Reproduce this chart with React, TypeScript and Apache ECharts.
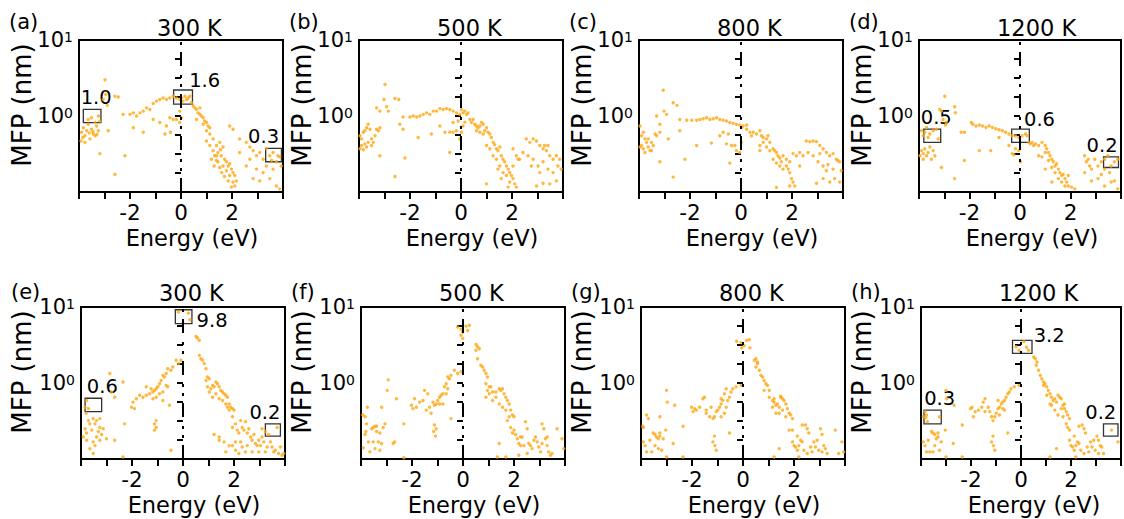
import React, { useEffect, useRef } from "react";
import * as echarts from "echarts";

// ---------- text ----------
const panelLetters = ["(a)", "(b)", "(c)", "(d)", "(e)", "(f)", "(g)", "(h)"];
const temperatures = ["300 K", "500 K", "800 K", "1200 K", "300 K", "500 K", "800 K", "1200 K"];
const xAxisName = "Energy (eV)";
const yAxisName = "MFP (nm)";
const xLabelledTicks = [-2, 0, 2];
const yDecadeTicks = [1, 10];

// ---------- data: [energy (eV), MFP (nm)] ----------
const mfpA: number[][] = [
  [-3.9, 0.61], [-3.83, 0.7], [-3.77, 0.55], [-3.7, 0.64], [-3.64, 0.78], [-3.57, 0.5], [-3.51, 0.67], [-3.44, 0.58],
  [-3.37, 0.82], [-3.31, 0.74], [-3.24, 1.0], [-3.18, 0.86], [-3.92, 0.47], [-3.77, 0.45], [-3.64, 0.9], [-3.51, 0.95],
  [-3.37, 0.55], [-3.24, 0.64], [-3.6, 0.6], [-3.45, 0.62], [-3.3, 0.57], [-3.85, 0.52],
  [-2.98, 3.0], [-3.05, 1.65], [-2.95, 1.92], [-2.89, 1.38], [-2.85, 0.64], [-3.18, 0.32], [-2.59, 1.82], [-2.46, 1.78],
  [-2.59, 0.17], [-2.2, 0.3],
  [-2.27, 1.05], [-2.0, 1.05], [-1.87, 1.1], [-1.74, 1.0], [-1.61, 1.1], [-1.48, 1.16], [-1.35, 1.28], [-1.22, 1.22],
  [-1.09, 1.46], [-0.96, 1.57], [-0.83, 1.65], [-0.7, 1.73], [-0.57, 1.65], [-0.44, 1.73], [-0.31, 1.82], [-0.18, 1.73],
  [-0.05, 1.65], [0.02, 1.73], [0.08, 1.57], [0.15, 1.82], [0.22, 1.65], [0.28, 1.73], [0.35, 1.82],
  [-1.87, 0.7], [-1.48, 0.61], [-1.09, 0.9], [-0.83, 0.82], [-0.57, 0.74], [-0.44, 0.95], [-0.31, 0.9], [-0.18, 0.9],
  [-0.05, 0.82], [0.02, 0.95], [-0.05, 1.16], [-0.41, 0.61], [-0.63, 0.58],
  [0.41, 1.49], [0.48, 1.35], [0.54, 1.28], [0.61, 1.22], [0.67, 1.1], [0.74, 1.05], [0.8, 1.0], [0.87, 0.95],
  [0.93, 0.86], [1.0, 0.82], [1.06, 0.74], [1.13, 0.7], [0.74, 1.28], [0.61, 0.9], [0.87, 0.78], [1.0, 0.64],
  [1.13, 0.58], [1.26, 0.5], [1.39, 0.41], [1.52, 0.45], [1.65, 0.39], [1.45, 0.33], [1.32, 0.3], [1.58, 0.3],
  [1.71, 0.27], [1.78, 0.25], [1.85, 0.22], [1.91, 0.235], [1.98, 0.2], [2.04, 0.18], [2.11, 0.165], [2.17, 0.14],
  [2.04, 0.135], [1.91, 0.165], [1.78, 0.19], [1.65, 0.22], [1.52, 0.21], [1.39, 0.26], [1.26, 0.35], [1.13, 0.41],
  [1.0, 0.47], [1.19, 0.27], [1.98, 0.116], [2.11, 0.12], [1.45, 0.25], [1.6, 0.18], [1.7, 0.16], [1.85, 0.14],
  [1.3, 0.22], [1.55, 0.36], [1.4, 0.3],
  [1.91, 0.74], [2.04, 0.67], [2.3, 0.5], [2.56, 0.45], [2.7, 0.39], [2.83, 0.35], [2.96, 0.3], [3.09, 0.33],
  [3.22, 0.27], [3.35, 0.37], [3.48, 0.3], [3.61, 0.33], [3.74, 0.25], [3.87, 0.29], [3.93, 0.22], [2.7, 0.27],
  [2.96, 0.2], [3.22, 0.18], [3.48, 0.15], [3.74, 0.12], [3.87, 0.11], [2.83, 0.15], [3.09, 0.14], [3.35, 0.22],
  [2.3, 0.33], [2.56, 0.22], [3.61, 0.2], [3.8, 0.3], [3.55, 0.26],
];

const mfpB: number[][] = [
  [-3.96, 0.55], [-3.9, 0.5], [-3.83, 0.61], [-3.77, 0.64], [-3.7, 0.7], [-3.64, 0.78], [-3.57, 0.67], [-3.51, 0.5],
  [-3.44, 0.45], [-3.37, 0.55], [-3.31, 0.67], [-3.24, 0.64], [-3.18, 0.7], [-3.9, 0.41], [-3.77, 0.43], [-3.64, 0.45],
  [-3.51, 0.41], [-3.96, 0.37], [-3.83, 0.36], [-3.7, 0.39],
  [-2.98, 2.6], [-3.31, 1.28], [-3.18, 1.16], [-3.02, 1.65], [-2.92, 1.32], [-2.85, 1.16], [-3.18, 0.3], [-2.59, 1.7],
  [-2.44, 1.65], [-2.59, 0.16], [-2.2, 0.28], [-2.4, 0.78], [-2.27, 0.67],
  [-2.27, 0.97], [-2.0, 0.97], [-1.87, 1.0], [-1.74, 0.97], [-1.61, 1.0], [-1.48, 1.05], [-1.35, 1.1], [-1.22, 1.05],
  [-1.09, 1.16], [-0.96, 1.16], [-0.83, 1.25], [-0.7, 1.22], [-0.57, 1.25], [-0.44, 1.22], [-0.31, 1.16], [-0.18, 1.1],
  [-0.05, 1.05], [0.02, 1.22], [0.08, 1.1], [0.15, 1.16], [0.22, 1.05], [0.28, 1.1],
  [-1.68, 0.52], [-1.16, 0.58], [-0.83, 0.74], [-0.63, 0.61], [-0.44, 0.61], [-0.31, 0.61], [-0.18, 0.64], [-0.44, 0.33],
  [-0.05, 0.5], [0.02, 0.61], [0.08, 0.74], [0.15, 0.83], [-0.31, 0.82], [-0.11, 0.86],
  [0.35, 0.9], [0.41, 0.82], [0.48, 0.9], [0.54, 0.78], [0.61, 0.74], [0.67, 0.7], [0.74, 0.74], [0.8, 0.82],
  [0.87, 0.78], [0.93, 0.64], [1.0, 0.7], [1.06, 0.61], [1.13, 0.58], [1.19, 0.52], [0.74, 0.61], [0.87, 0.58],
  [0.61, 0.64], [1.26, 0.45], [1.32, 0.42], [1.39, 0.37], [1.45, 0.35], [1.52, 0.39], [1.58, 0.3], [1.65, 0.27],
  [1.71, 0.25], [1.78, 0.22], [1.85, 0.2], [1.91, 0.18], [1.98, 0.165], [2.04, 0.15], [2.11, 0.128], [2.17, 0.116],
  [1.91, 0.135], [1.78, 0.165], [1.65, 0.18], [1.52, 0.22], [1.39, 0.27], [1.26, 0.3], [1.13, 0.37], [1.0, 0.41],
  [1.45, 0.2], [1.58, 0.15], [2.04, 0.22], [2.24, 0.27], [1.0, 0.128], [1.85, 0.116],
  [2.04, 0.37], [2.17, 0.3], [2.3, 0.27], [2.43, 0.33], [2.56, 0.5], [2.7, 0.45], [2.83, 0.5], [2.96, 0.47],
  [3.09, 0.41], [3.22, 0.37], [3.35, 0.35], [3.48, 0.3], [3.61, 0.27], [3.74, 0.3], [3.87, 0.27], [2.63, 0.3],
  [2.83, 0.27], [3.02, 0.22], [3.22, 0.25], [3.41, 0.2], [3.61, 0.18], [3.8, 0.22], [3.93, 0.2], [2.96, 0.12],
  [3.22, 0.13], [3.48, 0.128], [3.74, 0.14], [3.09, 0.18], [2.76, 0.22], [3.28, 0.41], [3.41, 0.41],
];

const mfpC: number[][] = [
  [-3.96, 0.74], [-3.9, 0.55], [-3.83, 0.61], [-3.77, 0.5], [-3.7, 0.45], [-3.64, 0.39], [-3.57, 0.35], [-3.51, 0.45],
  [-3.44, 0.41], [-3.37, 0.58], [-3.31, 0.55], [-3.18, 0.61], [-3.9, 0.41], [-3.83, 0.37], [-3.77, 0.33], [-3.64, 0.5],
  [-3.96, 0.39], [-3.51, 0.35],
  [-3.05, 2.18], [-3.31, 1.0], [-3.18, 0.78], [-3.02, 1.16], [-2.92, 1.05], [-2.85, 0.5], [-2.66, 1.49], [-2.51, 1.38],
  [-3.18, 0.25], [-2.66, 0.157], [-2.2, 0.27], [-2.4, 0.64],
  [-2.4, 0.9], [-2.13, 0.88], [-1.93, 0.88], [-1.74, 0.88], [-1.61, 0.9], [-1.48, 0.92], [-1.35, 0.95], [-1.22, 0.9],
  [-1.09, 0.92], [-0.96, 0.95], [-0.83, 0.9], [-0.7, 0.88], [-0.57, 0.86], [-0.44, 0.82], [-0.31, 0.8], [-0.18, 0.78],
  [-0.05, 0.76], [0.02, 0.705], [0.08, 0.74], [0.22, 0.76],
  [-1.74, 0.41], [-1.16, 0.44], [-0.83, 0.55], [-0.7, 0.61], [-0.5, 0.58], [-0.37, 0.41], [-0.24, 0.41], [-0.44, 0.24],
  [-0.18, 0.35], [-0.05, 0.33], [0.02, 0.45], [-0.57, 0.43],
  [0.22, 0.67], [0.35, 0.61], [0.41, 0.55], [0.48, 0.61], [0.61, 0.58], [0.74, 0.64], [0.8, 0.55], [0.87, 0.52],
  [1.0, 0.5], [1.06, 0.55], [1.13, 0.45], [1.26, 0.37], [1.32, 0.35], [1.39, 0.33], [1.45, 0.3], [1.52, 0.28],
  [1.58, 0.25], [1.65, 0.3], [1.78, 0.22], [1.85, 0.2], [1.91, 0.18], [1.98, 0.15], [2.04, 0.135], [2.11, 0.12],
  [1.91, 0.25], [1.78, 0.27], [1.65, 0.2], [1.52, 0.22], [1.39, 0.24], [1.26, 0.27], [1.13, 0.35], [1.0, 0.39],
  [0.87, 0.45], [0.74, 0.41], [1.39, 0.115], [1.91, 0.12], [0.74, 0.35], [2.3, 0.22],
  [2.04, 0.32], [2.17, 0.3], [2.3, 0.33], [2.43, 0.3], [2.56, 0.47], [2.7, 0.46], [2.83, 0.47], [2.96, 0.46],
  [3.09, 0.41], [3.22, 0.37], [3.35, 0.33], [3.48, 0.3], [3.61, 0.32], [3.74, 0.27], [3.87, 0.25], [2.63, 0.33],
  [2.83, 0.3], [3.02, 0.25], [3.22, 0.22], [3.35, 0.19], [3.61, 0.2], [3.8, 0.26], [3.93, 0.19], [2.96, 0.13],
  [3.22, 0.15], [3.48, 0.135], [3.67, 0.15], [3.09, 0.32], [3.41, 0.23], [3.87, 0.135],
];

const mfpD: number[][] = [
  [-3.9, 0.64], [-3.83, 0.55], [-3.77, 0.61], [-3.7, 0.705], [-3.64, 0.52], [-3.57, 0.58], [-3.44, 0.64], [-3.31, 0.67],
  [-3.24, 0.5], [-3.9, 0.35], [-3.83, 0.32], [-3.77, 0.37], [-3.7, 0.3], [-3.64, 0.33], [-3.57, 0.39], [-3.51, 0.27],
  [-3.37, 0.3], [-3.96, 0.3], [-3.83, 0.27], [-3.44, 0.35],
  [-2.98, 1.82], [-3.18, 1.22], [-3.05, 0.9], [-2.92, 0.82], [-3.11, 0.21], [-2.59, 1.32], [-2.56, 1.105], [-2.59, 0.15],
  [-2.2, 0.26], [-2.95, 0.76], [-3.11, 1.16],
  [-2.33, 0.61], [-2.2, 0.61], [-1.93, 0.82], [-1.87, 0.78], [-1.74, 0.74], [-1.61, 0.76], [-1.48, 0.74], [-1.35, 0.705],
  [-1.22, 0.74], [-1.09, 0.705], [-0.96, 0.68], [-0.83, 0.66], [-0.7, 0.64], [-0.57, 0.61], [-0.44, 0.58], [-0.31, 0.55],
  [-0.18, 0.55], [-0.05, 0.52], [0.08, 0.55], [0.22, 0.58], [0.28, 0.55],
  [-1.61, 0.35], [-1.16, 0.35], [-0.83, 0.52], [-0.44, 0.41], [-0.31, 0.32], [-0.18, 0.37], [-0.05, 0.35], [0.02, 0.25],
  [-0.24, 0.31],
  [0.35, 0.45], [0.41, 0.43], [0.48, 0.45], [0.54, 0.41], [0.61, 0.43], [0.74, 0.41], [0.87, 0.45], [1.0, 0.41],
  [1.06, 0.37], [1.13, 0.33], [1.19, 0.3], [1.26, 0.27], [1.32, 0.25], [1.39, 0.22], [1.45, 0.235], [1.52, 0.2],
  [1.58, 0.18], [1.65, 0.165], [1.71, 0.17], [1.78, 0.15], [1.85, 0.135], [1.91, 0.12], [2.04, 0.116], [0.74, 0.3],
  [0.87, 0.29], [1.0, 0.33], [1.13, 0.26], [1.26, 0.21], [1.39, 0.18], [1.52, 0.15], [1.65, 0.135], [1.78, 0.12],
  [1.26, 0.135], [1.0, 0.2], [1.91, 0.165], [2.17, 0.11],
  [2.56, 0.3], [2.63, 0.25], [2.7, 0.27], [2.76, 0.22], [2.83, 0.2], [2.96, 0.27], [3.09, 0.22], [3.22, 0.25],
  [3.35, 0.27], [3.48, 0.3], [3.61, 0.22], [3.74, 0.25], [3.87, 0.27], [3.35, 0.2], [3.55, 0.18], [3.74, 0.14],
  [3.09, 0.15], [2.83, 0.14], [3.35, 0.12], [3.61, 0.135], [3.87, 0.11], [2.56, 0.18], [3.22, 0.17],
];

const mfpE: number[][] = [
  [-0.18, 8.6], [0.21, 8.3], [0.27, 6.8],
  [0.51, 4.1], [0.57, 3.9], [0.64, 3.64], [0.64, 2.31], [0.7, 2.09], [0.77, 1.99], [0.83, 1.8], [0.9, 1.54],
  [0.96, 1.2], [0.9, 1.08], [1.03, 1.14], [0.96, 0.89], [1.09, 0.84], [1.16, 0.93], [1.22, 0.89], [1.29, 1.03],
  [1.35, 0.98], [1.42, 0.89], [1.48, 0.8], [1.55, 0.76], [1.61, 0.72], [1.68, 0.69], [1.74, 0.65], [1.81, 0.53],
  [1.87, 0.48], [1.94, 0.46], [2.0, 0.44], [1.03, 0.76], [1.16, 0.65], [1.29, 0.72], [1.42, 0.62], [1.55, 0.59],
  [1.68, 0.53], [1.74, 0.48], [1.81, 0.44], [1.94, 0.36],
  [-0.08, 1.99], [-0.17, 1.8], [-0.27, 1.99], [-0.4, 1.62], [-0.47, 1.47], [-0.6, 1.54], [-0.66, 1.33], [-0.73, 1.2],
  [-0.79, 1.26], [-0.86, 1.08], [-0.92, 0.98], [-0.99, 0.89], [-1.05, 0.84], [-1.12, 0.8], [-1.18, 0.76], [-1.25, 0.84],
  [-1.31, 0.72], [-1.44, 0.69], [-1.57, 0.65], [-1.7, 0.69], [-1.83, 0.62], [-1.96, 0.56], [-2.02, 0.48], [-1.9, 0.46],
  [-1.44, 0.89], [-1.18, 0.62], [-1.05, 0.65], [-0.92, 0.72], [-0.79, 0.76], [-0.66, 0.93], [-0.6, 0.89], [-0.53, 0.51],
  [-0.79, 0.59], [-1.05, 0.32], [-1.12, 0.29], [-1.05, 0.26], [-1.12, 0.24], [-0.47, 0.13], [-2.35, 1.03], [-2.68, 0.65],
  [-2.87, 1.33], [-2.8, 0.76], [-2.29, 0.29], [-2.35, 0.106], [-3.0, 0.185], [-2.68, 0.176],
  [-3.84, 0.48], [-3.78, 0.59], [-3.71, 0.46], [-3.8, 0.4], [-3.71, 0.32], [-3.65, 0.29], [-3.84, 0.25], [-3.78, 0.22],
  [-3.52, 0.34], [-3.45, 0.29], [-3.39, 0.32], [-3.26, 0.26], [-3.32, 0.23], [-3.19, 0.21], [-3.52, 0.168], [-3.39, 0.195],
  [-3.45, 0.15], [-3.26, 0.176], [-3.65, 0.137], [-3.52, 0.118], [-3.91, 0.195], [-3.78, 0.176], [-3.58, 0.24], [-3.26, 0.34],
  [-3.13, 0.25],
  [1.94, 0.26], [2.06, 0.29], [2.13, 0.24], [2.19, 0.22], [2.26, 0.32], [2.32, 0.26], [2.39, 0.24], [2.45, 0.31],
  [2.52, 0.22], [2.58, 0.25], [2.65, 0.195], [2.71, 0.176], [2.78, 0.21], [2.84, 0.16], [2.91, 0.15], [2.97, 0.176],
  [3.04, 0.15], [3.1, 0.195], [3.17, 0.168], [3.23, 0.23], [3.36, 0.21], [3.43, 0.168], [3.49, 0.144], [3.56, 0.124],
  [3.62, 0.13], [3.69, 0.26], [3.75, 0.118], [3.82, 0.144], [3.88, 0.112], [3.95, 0.118], [2.06, 0.13], [2.19, 0.118],
  [2.45, 0.124], [2.71, 0.124], [2.97, 0.124], [3.23, 0.124], [2.06, 0.168], [2.32, 0.144], [2.52, 0.15], [1.81, 0.15],
  [1.61, 0.168], [1.42, 0.176], [1.68, 0.124], [1.94, 0.15], [2.26, 0.168], [1.22, 0.21], [1.42, 0.195], [3.1, 0.25],
  [3.3, 0.144],
];

const mfpF: number[][] = [
  [-0.21, 5.46], [-0.08, 5.1], [-0.01, 4.69], [0.12, 5.6], [0.25, 5.74], [0.18, 4.9], [-0.08, 4.24], [-0.01, 3.84],
  [0.51, 3.21], [0.57, 3.0], [0.51, 2.69], [0.64, 2.83], [0.57, 2.09], [0.7, 1.71], [0.77, 1.62], [0.83, 1.47],
  [0.9, 1.33], [0.96, 1.2], [0.9, 0.98], [1.03, 0.89], [0.96, 0.8], [1.09, 0.89], [1.16, 0.76], [1.29, 0.76],
  [1.42, 0.84], [1.48, 0.8], [1.55, 0.84], [1.61, 0.72], [1.68, 0.65], [1.74, 0.59], [1.81, 0.53], [1.87, 0.44],
  [1.94, 0.38], [2.0, 0.36], [0.9, 0.65], [1.03, 0.72], [1.16, 0.59], [1.29, 0.65], [1.42, 0.53], [1.55, 0.48],
  [1.68, 0.44], [1.81, 0.36], [1.74, 0.32], [1.87, 0.26],
  [-0.08, 1.4], [-0.21, 1.33], [-0.34, 1.47], [-0.47, 1.26], [-0.53, 1.14], [-0.6, 1.2], [-0.66, 0.98], [-0.73, 0.89],
  [-0.79, 0.72], [-0.86, 0.69], [-0.92, 0.65], [-0.99, 0.59], [-1.05, 0.53], [-1.12, 0.51], [-1.18, 0.56], [-1.31, 0.48],
  [-1.44, 0.44], [-1.51, 0.8], [-1.38, 0.72], [-1.57, 0.59], [-1.7, 0.56], [-1.83, 0.48], [-1.96, 0.46], [-2.02, 0.51],
  [-1.9, 0.62], [-1.25, 0.4], [-0.92, 0.53], [-0.79, 0.53], [-0.66, 0.72], [-0.6, 0.84], [-0.47, 0.34], [-1.12, 0.28],
  [-1.05, 0.25], [-1.15, 0.23], [-1.08, 0.2], [-2.32, 0.29], [-2.32, 0.104], [-2.68, 0.168], [-2.93, 1.1], [-2.97, 0.8],
  [-3.19, 0.48], [-2.61, 0.62], [-3.06, 0.29],
  [-3.93, 0.38], [-3.84, 0.36], [-3.75, 0.48], [-3.78, 0.29], [-3.81, 0.23], [-3.71, 0.168], [-3.65, 0.124], [-3.58, 0.25],
  [-3.52, 0.26], [-3.45, 0.27], [-3.39, 0.23], [-3.32, 0.168], [-3.26, 0.22], [-3.19, 0.16], [-3.45, 0.137], [-3.26, 0.13],
  [-3.84, 0.21], [-3.91, 0.14], [-3.13, 0.26], [-3.39, 0.27], [-2.74, 0.16], [-3.52, 0.168],
  [1.94, 0.22], [2.0, 0.24], [2.06, 0.21], [2.13, 0.185], [2.19, 0.16], [2.26, 0.15], [2.32, 0.195], [2.39, 0.15],
  [2.45, 0.31], [2.52, 0.25], [2.58, 0.16], [2.65, 0.15], [2.71, 0.137], [2.78, 0.176], [2.84, 0.195], [2.91, 0.168],
  [2.97, 0.144], [3.04, 0.124], [3.1, 0.29], [3.17, 0.25], [3.23, 0.185], [3.3, 0.15], [3.36, 0.124], [3.43, 0.112],
  [3.49, 0.118], [3.69, 0.25], [3.88, 0.185], [3.95, 0.137], [1.42, 0.16], [1.35, 0.106], [1.68, 0.106], [2.19, 0.112],
  [2.52, 0.118], [3.1, 0.16], [3.3, 0.195], [2.26, 0.195],
];

const mfpG: number[][] = [
  [-0.25, 3.55], [-0.08, 3.4], [0.05, 3.1], [0.14, 3.64], [0.25, 3.7], [0.27, 2.9], [-0.05, 2.9],
  [0.44, 1.99], [0.51, 2.09], [0.57, 1.89], [0.57, 1.8], [0.51, 1.62], [0.64, 1.47], [0.7, 1.26], [0.77, 1.2],
  [0.83, 1.08], [0.9, 0.98], [0.96, 0.93], [1.03, 0.8], [0.83, 0.8], [1.03, 0.65], [1.16, 0.59], [1.22, 0.56],
  [1.29, 0.51], [1.35, 0.53], [1.42, 0.48], [1.48, 0.65], [1.55, 0.62], [1.61, 0.59], [1.68, 0.53], [1.74, 0.46],
  [1.81, 0.4], [1.87, 0.38], [1.94, 0.34], [1.16, 0.48], [1.29, 0.4], [1.42, 0.4], [1.55, 0.44], [1.68, 0.36],
  [1.81, 0.24], [1.94, 0.24], [1.48, 0.67], [1.22, 0.62],
  [-0.08, 0.93], [-0.27, 0.89], [-0.4, 0.84], [-0.47, 0.76], [-0.53, 0.65], [-0.6, 0.59], [-0.66, 0.84], [-0.73, 0.72],
  [-0.79, 0.59], [-0.86, 0.53], [-0.92, 0.48], [-0.99, 0.44], [-1.05, 0.42], [-1.12, 0.36], [-1.18, 0.34], [-1.31, 0.36],
  [-1.44, 0.44], [-1.57, 0.62], [-1.51, 0.65], [-1.7, 0.48], [-1.83, 0.44], [-1.96, 0.42], [-2.02, 0.48], [-1.9, 0.46],
  [-1.25, 0.48], [-0.86, 0.36], [-0.73, 0.4], [-0.53, 0.22], [-1.12, 0.2], [-1.18, 0.168], [-1.1, 0.15], [-1.05, 0.13],
  [-2.35, 0.27], [-2.35, 0.106], [-2.74, 0.16], [-3.0, 0.8], [-2.97, 0.56], [-2.68, 0.51], [-3.26, 0.36], [-3.03, 0.24],
  [-1.44, 0.4], [-0.86, 0.62], [-0.66, 0.48],
  [-3.93, 0.27], [-3.91, 0.26], [-3.78, 0.38], [-3.71, 0.34], [-3.65, 0.176], [-3.84, 0.15], [-3.58, 0.124], [-3.52, 0.22],
  [-3.45, 0.21], [-3.39, 0.195], [-3.32, 0.185], [-3.26, 0.2], [-3.19, 0.13], [-3.13, 0.185], [-3.45, 0.15], [-3.32, 0.137],
  [-3.78, 0.124], [-3.91, 0.168], [-3.0, 0.106], [-3.26, 0.22],
  [1.94, 0.168], [2.0, 0.15], [2.06, 0.144], [2.13, 0.13], [2.19, 0.15], [2.26, 0.176], [2.32, 0.168], [2.39, 0.13],
  [2.45, 0.28], [2.52, 0.25], [2.58, 0.22], [2.65, 0.144], [2.71, 0.124], [2.78, 0.168], [2.84, 0.144], [2.91, 0.176],
  [2.97, 0.13], [3.04, 0.25], [3.1, 0.21], [3.17, 0.15], [3.23, 0.137], [3.3, 0.118], [3.62, 0.24], [3.88, 0.168],
  [3.95, 0.124], [3.75, 0.118], [1.42, 0.137], [1.22, 0.106], [2.19, 0.106], [2.52, 0.118], [3.1, 0.124], [2.32, 0.28],
  [2.13, 0.2],
];

const mfpH: number[][] = [
  [-0.2, 3.0], [-0.08, 2.7], [0.12, 3.5], [0.22, 2.95], [0.3, 2.7],
  [0.51, 2.2], [0.57, 2.09], [0.64, 1.89], [0.61, 1.71], [0.7, 1.47], [0.77, 1.26], [0.83, 1.14], [0.9, 1.03],
  [0.96, 0.98], [1.03, 0.89], [1.09, 0.8], [0.9, 0.93], [1.16, 0.72], [1.22, 0.65], [1.29, 0.59], [1.35, 0.62],
  [1.42, 0.56], [1.48, 0.69], [1.55, 0.65], [1.61, 0.62], [1.68, 0.51], [1.74, 0.46], [1.81, 0.42], [1.87, 0.38],
  [1.94, 0.34], [1.22, 0.51], [1.35, 0.44], [1.48, 0.38], [1.68, 0.36], [1.81, 0.29], [1.87, 0.26], [1.94, 0.24],
  [1.03, 0.69], [1.16, 0.53], [1.61, 0.46], [1.74, 0.53],
  [-0.08, 0.93], [-0.27, 0.89], [-0.4, 0.84], [-0.47, 0.76], [-0.53, 0.72], [-0.6, 0.65], [-0.66, 0.59], [-0.73, 0.56],
  [-0.79, 0.53], [-0.86, 0.48], [-0.92, 0.46], [-0.99, 0.4], [-1.05, 0.36], [-1.12, 0.32], [-1.18, 0.36], [-1.25, 0.42],
  [-1.31, 0.48], [-1.44, 0.62], [-1.51, 0.56], [-1.57, 0.48], [-1.7, 0.44], [-1.83, 0.42], [-1.96, 0.48], [-2.02, 0.46],
  [-1.9, 0.36], [-0.86, 0.38], [-0.73, 0.46], [-0.53, 0.22], [-1.12, 0.2], [-1.18, 0.168], [-1.1, 0.15], [-1.05, 0.13],
  [-2.35, 0.28], [-2.35, 0.106], [-2.71, 0.16], [-3.0, 0.8], [-2.97, 0.62], [-2.68, 0.51], [-3.26, 0.36], [-3.03, 0.24],
  [-1.44, 0.42], [-0.92, 0.59], [-0.66, 0.44],
  [-3.84, 0.42], [-3.78, 0.38], [-3.81, 0.35], [-3.75, 0.31], [-3.91, 0.36], [-3.71, 0.176], [-3.84, 0.15], [-3.65, 0.124],
  [-3.52, 0.22], [-3.45, 0.21], [-3.39, 0.185], [-3.32, 0.195], [-3.26, 0.13], [-3.19, 0.168], [-3.58, 0.23], [-3.45, 0.15],
  [-3.78, 0.124], [-3.91, 0.168], [-3.0, 0.106], [-3.32, 0.22], [-3.52, 0.124],
  [1.94, 0.176], [2.0, 0.15], [2.06, 0.144], [2.13, 0.13], [2.19, 0.15], [2.26, 0.168], [2.32, 0.16], [2.39, 0.13],
  [2.45, 0.28], [2.52, 0.25], [2.58, 0.22], [2.65, 0.144], [2.71, 0.124], [2.78, 0.168], [2.84, 0.144], [2.91, 0.176],
  [2.97, 0.13], [3.04, 0.2], [3.1, 0.176], [3.17, 0.15], [3.23, 0.144], [3.3, 0.118], [3.62, 0.24], [3.88, 0.168],
  [1.16, 0.106], [1.42, 0.137], [2.19, 0.106], [2.52, 0.118], [3.1, 0.118], [2.32, 0.27], [2.13, 0.2],
];

// ---------- annotated boxes: energy range, MFP range, text ----------
type Box = { energy: number[]; mfp: number[]; text: string };
const boxesA: Box[] = [
  { energy: [-3.83, -3.14], mfp: [0.82, 1.22], text: "1.0" },
  { energy: [-0.29, 0.45], mfp: [1.43, 2.2], text: "1.6" },
  { energy: [3.32, 3.94], mfp: [0.25, 0.375], text: "0.3" },
];
const boxesD: Box[] = [
  { energy: [-3.81, -3.14], mfp: [0.45, 0.67], text: "0.5" },
  { energy: [-0.33, 0.37], mfp: [0.45, 0.67], text: "0.6" },
  { energy: [3.31, 3.9], mfp: [0.21, 0.29], text: "0.2" },
];
const boxesE: Box[] = [
  { energy: [-3.84, -3.19], mfp: [0.42, 0.63], text: "0.6" },
  { energy: [-0.3, 0.35], mfp: [6.04, 9.2], text: "9.8" },
  { energy: [3.23, 3.82], mfp: [0.2, 0.29], text: "0.2" },
];
const boxesH: Box[] = [
  { energy: [-3.88, -3.19], mfp: [0.29, 0.44], text: "0.3" },
  { energy: [-0.34, 0.44], mfp: [2.46, 3.64], text: "3.2" },
  { energy: [3.3, 3.88], mfp: [0.2, 0.29], text: "0.2" },
];

// label placement per box (style, kept apart from the values)
const placeA = [["above", 4], ["cornerRight", -4], ["above", -10]];
const placeD = [["above", 4], ["cornerRight", -6], ["above", -9]];
const placeE = [["above", 9], ["midRight", 4], ["above", -8]];
const placeH = [["above", 7], ["topRight", 1], ["above", -10]];

const panelData = [mfpA, mfpB, mfpC, mfpD, mfpE, mfpF, mfpG, mfpH];
const panelBoxes: (Box[] | null)[] = [boxesA, null, null, boxesD, boxesE, null, null, boxesH];
const panelPlaces: any[] = [placeA, null, null, placeD, placeE, null, null, placeH];

const FONT = "DejaVu Sans";
const DOT = "#FFA60F";

function labelFor(place: string, shift: number): any {
  const base = { show: true, color: "#000", fontSize: 19.5, fontFamily: FONT, formatter: "{b}", lineHeight: 20 };
  if (place === "above") return { ...base, position: "top", distance: 1, offset: [shift, 0] };
  if (place === "cornerRight")
    return { ...base, position: ["100%", 0], align: "left", verticalAlign: "bottom", offset: [shift, 1] };
  if (place === "midRight")
    return { ...base, position: ["100%", "50%"], align: "left", verticalAlign: "middle", offset: [shift, 4] };
  return { ...base, position: ["100%", 0], align: "left", verticalAlign: "middle", offset: [shift, -4] };
}

function buildOption(): any {
  const grids: any[] = [];
  const xAxes: any[] = [];
  const yAxes: any[] = [];
  const series: any[] = [];
  const graphics: any[] = [];

  for (let i = 0; i < 8; i++) {
    const row = i < 4 ? 0 : 1;
    const col = i % 4;
    const left = (row ? 81 : 79) + 280 * col;
    const top = row ? 307 : 40;
    const width = 204;
    const height = 152;

    grids.push({ left, top, width, height, show: true, borderColor: "#000", borderWidth: 2, backgroundColor: "transparent" });

    xAxes.push({
      gridIndex: i,
      type: "value",
      min: -4,
      max: 4,
      interval: 1,
      axisLine: { show: true, onZero: false, lineStyle: { color: "#000", width: 2 } },
      axisTick: { show: true, length: 7, lineStyle: { color: "#000", width: 2 } },
      axisLabel: {
        color: "#000",
        fontSize: 21.5,
        lineHeight: 16,
        fontFamily: FONT,
        margin: 12,
        formatter: (v: number) => (xLabelledTicks.indexOf(v) >= 0 ? String(v) : ""),
      },
      splitLine: { show: false },
    });

    yAxes.push({
      gridIndex: i,
      type: "log",
      logBase: 10,
      min: 0.1,
      max: 10,
      position: "left",
      axisLine: { show: true, onZero: false, lineStyle: { color: "#000", width: 2 } },
      axisTick: { show: false },
      axisLabel: {
        margin: 6,
        color: "#000",
        fontSize: 21,
        fontFamily: FONT,
        formatter: (v: number) => {
          const d = yDecadeTicks.find((t) => Math.abs(t - v) < 1e-6);
          if (d === undefined) return "";
          return "{b|10}{s|" + Math.round(Math.log10(d)) + "}";
        },
        rich: {
          b: { fontSize: 21, fontFamily: FONT, color: "#000", lineHeight: 20 },
          s: { fontSize: 14, fontFamily: FONT, color: "#000", lineHeight: 14, verticalAlign: "top" },
        },
      },
      splitLine: { show: false },
    });
    // quarter-decade tick marks (log10 of MFP)
    yAxes.push({
      gridIndex: i,
      type: "value",
      min: -1,
      max: 1,
      interval: 0.25,
      position: "left",
      offset: 0,
      axisLine: { show: false },
      axisTick: { show: true, length: 6, lineStyle: { color: "#000", width: 2 } },
      axisLabel: { show: false },
      splitLine: { show: false },
    });

    const boxes = panelBoxes[i];
    const places = panelPlaces[i];
    series.push({
      type: "scatter",
      xAxisIndex: i,
      yAxisIndex: 2 * i,
      data: panelData[i],
      symbol: "circle",
      symbolSize: 3.4,
      itemStyle: { color: DOT },
      silent: true,
      markLine: {
        silent: true,
        symbol: ["none", "none"],
        label: { show: false },
        lineStyle: { color: "#000", width: 2, type: [14, 7, 3, 6, 3, 9] },
        data: [{ xAxis: 0 }],
      },
      markArea: boxes
        ? {
            silent: true,
            itemStyle: { color: "rgba(0,0,0,0)", borderColor: "#333", borderWidth: 1.3 },
            data: boxes.map((b, k) => [
              { coord: [b.energy[0], b.mfp[1]], name: b.text, label: labelFor(places[k][0], places[k][1]) },
              { coord: [b.energy[1], b.mfp[0]] },
            ]),
          }
        : undefined,
    });

    const txt = { fill: "#000", fontFamily: FONT };
    graphics.push({
      type: "text",
      x: (row ? 11 : 9) + 280 * col,
      y: row ? 292 : 22,
      style: { ...txt, text: panelLetters[i], fontSize: 21, lineHeight: 20, align: "left", verticalAlign: "middle" },
    });
    graphics.push({
      type: "text",
      x: left + 78,
      y: row ? 293 : 28,
      style: { ...txt, text: temperatures[i], fontSize: 22.5, lineHeight: 18, align: "left", verticalAlign: "middle" },
    });
    graphics.push({
      type: "text",
      x: left + 113,
      y: top + height + 46,
      style: { ...txt, text: xAxisName, fontSize: 22.5, lineHeight: 20, align: "center", verticalAlign: "middle" },
    });
    graphics.push({
      type: "text",
      x: 22 + 280 * col,
      y: top + 65,
      rotation: Math.PI / 2,
      style: { ...txt, text: yAxisName, fontSize: 26, lineHeight: 22, align: "center", verticalAlign: "middle" },
    });
  }

  return {
    animation: false,
    backgroundColor: "#fff",
    grid: grids,
    xAxis: xAxes,
    yAxis: yAxes,
    series,
    graphic: graphics,
  };
}

export default function App() {
  const ref = useRef<HTMLDivElement>(null);
  useEffect(() => {
    if (!ref.current) return;
    const chart = echarts.init(ref.current, null, { renderer: "svg" });
    chart.setOption(buildOption());
    return () => chart.dispose();
  }, []);
  return (
    <div
      ref={ref}
      style={{ position: "fixed", left: 0, top: 0, width: 1124, height: 519, background: "#fff" }}
    />
  );
}
